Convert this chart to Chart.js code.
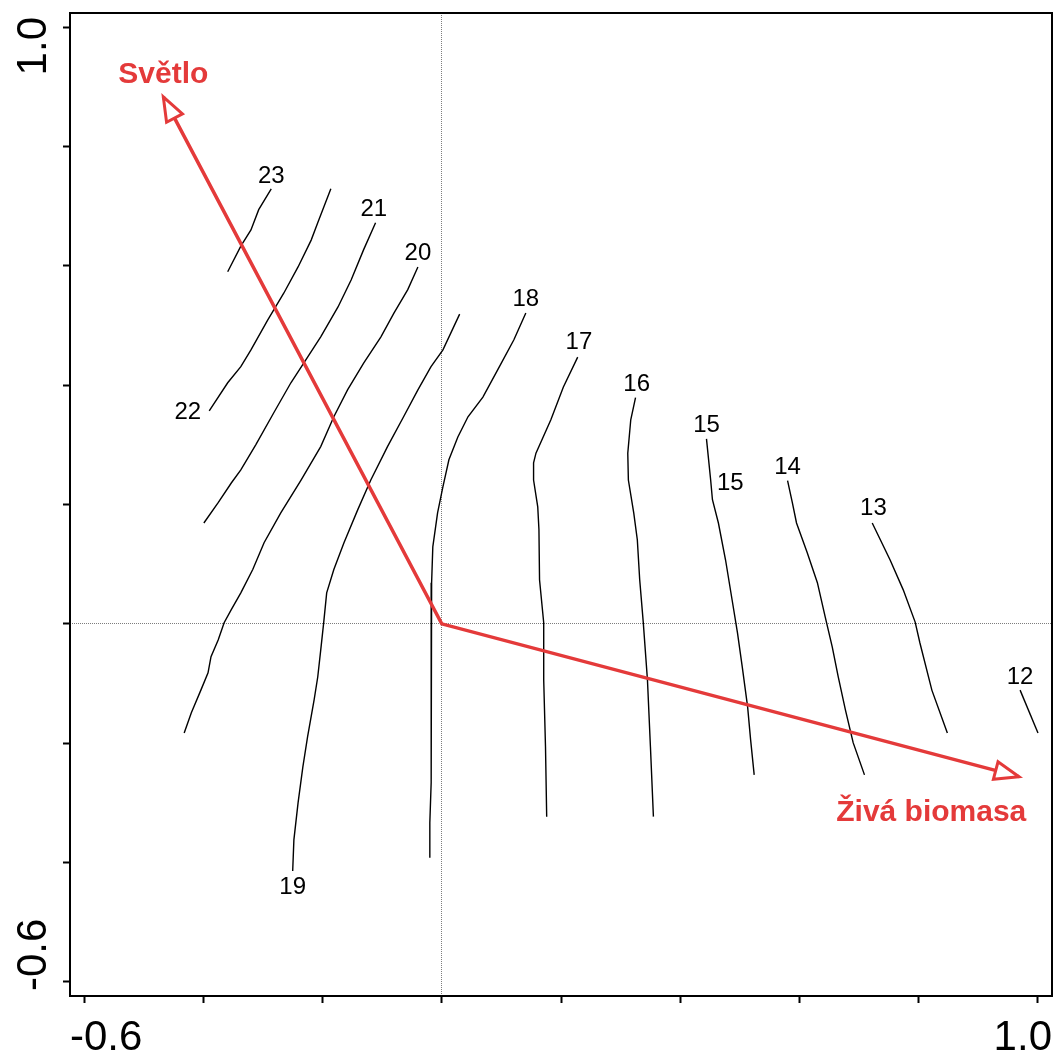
<!DOCTYPE html>
<html>
<head>
<meta charset="utf-8">
<title>Světlo / Živá biomasa</title>
<script src="https://cdn.jsdelivr.net/npm/chart.js@4.4.0/dist/chart.umd.min.js"></script>
<style>
  html, body { margin: 0; padding: 0; background: #fff; }
  #wrap { width: 1057px; height: 1054px; position: relative; }
</style>
</head>
<body>
<div id="wrap"><canvas id="chart"></canvas></div>
<script>
// --- Axes ---
const axisMin = -0.6235;
const axisMax = 1.0235;
const tickValues = [-0.6, -0.4, -0.2, 0, 0.2, 0.4, 0.6, 0.8, 1.0];
const xTickLabels = ['-0.6', '1.0'];
const yTickLabels = ['-0.6', '1.0'];

// --- Isolines (x, y) ---
const iso23 = [[-0.286, 0.729], [-0.307, 0.694], [-0.320, 0.660], [-0.337, 0.633], [-0.359, 0.590]];
const iso22 = [[-0.186, 0.729], [-0.208, 0.672], [-0.219, 0.643], [-0.241, 0.598], [-0.265, 0.554],
               [-0.292, 0.509], [-0.320, 0.459], [-0.337, 0.431], [-0.359, 0.404], [-0.390, 0.357]];
const iso21 = [[-0.111, 0.672], [-0.131, 0.627], [-0.152, 0.576], [-0.174, 0.531], [-0.203, 0.481],
               [-0.225, 0.447], [-0.253, 0.404], [-0.281, 0.355], [-0.312, 0.300], [-0.337, 0.258],
               [-0.353, 0.236], [-0.375, 0.203], [-0.399, 0.169]];
const iso20 = [[-0.040, 0.598], [-0.057, 0.560], [-0.080, 0.521], [-0.102, 0.481], [-0.131, 0.437],
               [-0.158, 0.392], [-0.181, 0.347], [-0.203, 0.297], [-0.236, 0.241], [-0.270, 0.186],
               [-0.298, 0.136], [-0.317, 0.091], [-0.337, 0.052], [-0.353, 0.024], [-0.365, 0.002],
               [-0.375, -0.027], [-0.387, -0.055], [-0.392, -0.082], [-0.404, -0.111], [-0.420, -0.149],
               [-0.432, -0.183]];
const iso19 = [[0.030, 0.519], [0.002, 0.459], [-0.018, 0.431], [-0.040, 0.392], [-0.064, 0.347],
               [-0.091, 0.297], [-0.119, 0.241], [-0.141, 0.191], [-0.164, 0.136], [-0.181, 0.091],
               [-0.193, 0.052], [-0.198, 0.002], [-0.203, -0.044], [-0.208, -0.089], [-0.214, -0.127],
               [-0.225, -0.189], [-0.233, -0.240], [-0.241, -0.300], [-0.248, -0.362], [-0.250, -0.414]];
const iso18 = [[0.141, 0.521], [0.121, 0.476], [0.094, 0.426], [0.069, 0.380], [0.044, 0.347],
               [0.027, 0.313], [0.012, 0.275], [0.002, 0.230], [-0.007, 0.186], [-0.015, 0.129],
               [-0.017, 0.069], [-0.018, -0.044], [-0.018, -0.099], [-0.017, -0.156], [-0.018, -0.266],
               [-0.020, -0.333], [-0.020, -0.392]];
const iso17 = [[0.228, 0.447], [0.204, 0.397], [0.183, 0.342], [0.158, 0.286], [0.154, 0.270],
               [0.154, 0.241], [0.161, 0.196], [0.163, 0.158], [0.164, 0.074], [0.171, 0.002],
               [0.171, -0.094], [0.174, -0.206], [0.176, -0.323]];
const iso16 = [[0.325, 0.379], [0.317, 0.342], [0.312, 0.286], [0.313, 0.241], [0.322, 0.186],
               [0.328, 0.141], [0.332, 0.074], [0.338, 0.002], [0.345, -0.094], [0.350, -0.206],
               [0.355, -0.323]];
const iso15 = [[0.444, 0.310], [0.451, 0.241], [0.454, 0.208], [0.464, 0.169], [0.476, 0.107],
               [0.487, 0.040], [0.496, -0.015], [0.504, -0.072], [0.513, -0.139], [0.518, -0.194],
               [0.524, -0.253]];
const iso14 = [[0.580, 0.240], [0.588, 0.203], [0.595, 0.169], [0.613, 0.119], [0.630, 0.069],
               [0.643, 0.012], [0.655, -0.039], [0.665, -0.089], [0.677, -0.144], [0.690, -0.199],
               [0.709, -0.253]];
const iso13 = [[0.722, 0.169], [0.752, 0.107], [0.774, 0.057], [0.794, 0.003], [0.802, -0.032],
               [0.822, -0.111], [0.848, -0.183]];
const iso12 = [[0.970, -0.111], [1.000, -0.183]];

const isolines = [iso23, iso22, iso21, iso20, iso19, iso18, iso17, iso16, iso15, iso14, iso13, iso12];

// --- Isoline labels ---
const isoLabelText = ['23', '22', '21', '20', '19', '18', '17', '16', '15', '15', '14', '13', '12'];
const isoLabelX = [-0.286, -0.426, -0.114, -0.040, -0.250, 0.141, 0.230, 0.327, 0.444, 0.484, 0.580, 0.724, 0.970];
const isoLabelY = [0.750, 0.355, 0.695, 0.621, -0.441, 0.543, 0.472, 0.402, 0.333, 0.236, 0.263, 0.193, -0.089];

// --- Environmental arrows ---
const arrowNames = ['Světlo', 'Živá biomasa'];
const arrowX = [-0.467, 0.968];
const arrowY = [0.883, -0.256];
const arrowLabelX = [-0.467, 0.821];
const arrowLabelY = [0.920, -0.317];

const RED = 'rgb(228, 58, 58)';
const FONT = '"Liberation Sans", Arial, Helvetica, sans-serif';

// --- Datasets ---
const datasets = [{
    label: 'arrows',
    data: [
        { x: arrowX[0], y: arrowY[0] },
        { x: 0, y: 0 },
        { x: arrowX[1], y: arrowY[1] }
    ],
    showLine: true,
    borderColor: RED,
    borderWidth: 3.5,
    borderJoinStyle: 'miter',
    pointRadius: 0,
    tension: 0
}];
isolines.forEach((line, i) => {
    datasets.push({
        label: 'iso' + i,
        data: line.map(p => ({ x: p[0], y: p[1] })),
        showLine: true,
        borderColor: '#000',
        borderWidth: 1.4,
        pointRadius: 0,
        tension: 0
    });
});

// --- Plugins ---
const arrowHeads = {
    id: 'arrowHeads',
    afterDatasetsDraw(chart) {
        const { ctx, scales: { x, y } } = chart;
        const ox = x.getPixelForValue(0), oy = y.getPixelForValue(0);
        ctx.save();
        ctx.strokeStyle = RED;
        ctx.fillStyle = '#fff';
        ctx.lineWidth = 3;
        ctx.lineJoin = 'miter';
        arrowX.forEach((ax, i) => {
            const tx = x.getPixelForValue(ax), ty = y.getPixelForValue(arrowY[i]);
            const len = Math.hypot(tx - ox, ty - oy);
            const dx = (tx - ox) / len, dy = (ty - oy) / len;
            const bx = tx - dx * 24, by = ty - dy * 24;
            ctx.beginPath();
            ctx.moveTo(tx, ty);
            ctx.lineTo(bx - dy * 9, by + dx * 9);
            ctx.lineTo(bx + dy * 9, by - dx * 9);
            ctx.closePath();
            ctx.fill();
            ctx.stroke();
        });
        ctx.restore();
    }
};

const textLabels = {
    id: 'textLabels',
    afterDatasetsDraw(chart) {
        const { ctx, scales: { x, y } } = chart;
        ctx.save();
        ctx.textAlign = 'center';
        ctx.textBaseline = 'middle';
        ctx.fillStyle = '#000';
        ctx.font = '24px ' + FONT;
        isoLabelText.forEach((t, i) => {
            ctx.fillText(t, x.getPixelForValue(isoLabelX[i]), y.getPixelForValue(isoLabelY[i]));
        });
        ctx.fillStyle = RED;
        ctx.font = 'bold 30px ' + FONT;
        arrowNames.forEach((t, i) => {
            ctx.fillText(t, x.getPixelForValue(arrowLabelX[i]), y.getPixelForValue(arrowLabelY[i]));
        });
        ctx.restore();
    }
};

const frame = {
    id: 'frame',
    afterDraw(chart) {
        const { ctx, chartArea: a } = chart;
        ctx.save();
        ctx.strokeStyle = '#000';
        ctx.lineWidth = 2;
        ctx.strokeRect(a.left, a.top, a.right - a.left, a.bottom - a.top);

        // end labels of the axes, aligned to the frame corners
        ctx.fillStyle = '#000';
        ctx.font = '42px ' + FONT;
        ctx.textBaseline = 'alphabetic';
        ctx.textAlign = 'left';
        ctx.fillText(xTickLabels[0], a.left, a.bottom + 54);
        ctx.textAlign = 'right';
        ctx.fillText(xTickLabels[1], a.right, a.bottom + 54);

        ctx.translate(a.left - 24, 0);
        ctx.rotate(-Math.PI / 2);
        ctx.textAlign = 'left';
        ctx.fillText(yTickLabels[0], -(a.bottom - 5), 0);
        ctx.textAlign = 'right';
        ctx.fillText(yTickLabels[1], -(a.top + 4), 0);
        ctx.restore();
    }
};

function axisOptions(fitProp, fitVal) {
    return {
        type: 'linear',
        min: axisMin,
        max: axisMax,
        afterBuildTicks: s => { s.ticks = tickValues.map(v => ({ value: v })); },
        afterFit: s => { s[fitProp] = fitVal; },
        ticks: { display: false },
        grid: {
            color: c => (c.tick && Math.abs(c.tick.value) < 1e-9) ? '#7d7d7d' : 'rgba(0,0,0,0)',
            lineWidth: 1,
            drawTicks: true,
            tickLength: 7,
            tickColor: '#000',
            tickWidth: 2,
            tickBorderDash: []
        },
        border: { display: false, dash: [1, 1] }
    };
}

new Chart(document.getElementById('chart'), {
    type: 'scatter',
    data: { datasets },
    options: {
        responsive: true,
        maintainAspectRatio: false,
        animation: false,
        layout: { padding: { top: 13, right: 5, left: 0, bottom: 0 } },
        plugins: {
            legend: { display: false },
            tooltip: { enabled: false }
        },
        scales: {
            x: axisOptions('height', 58),
            y: axisOptions('width', 70)
        }
    },
    plugins: [arrowHeads, textLabels, frame]
});
</script>
</body>
</html>
